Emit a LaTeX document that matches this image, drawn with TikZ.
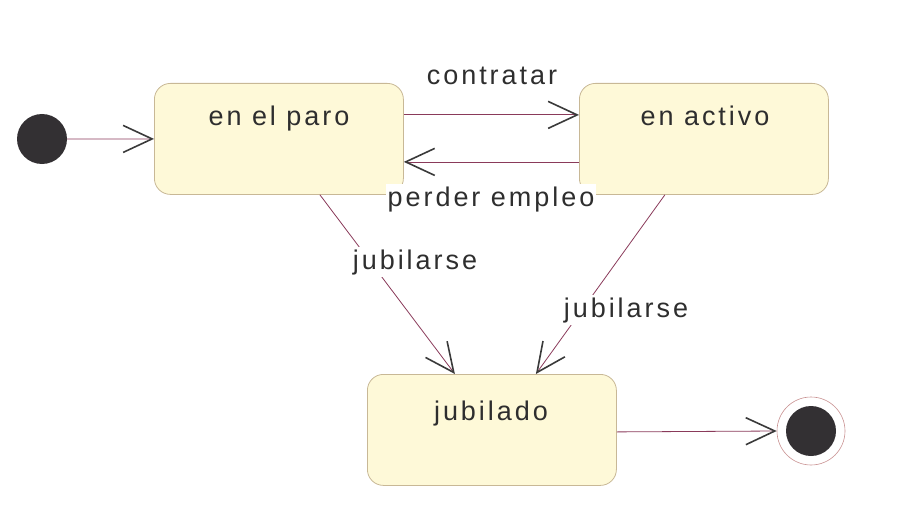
\documentclass[tikz,border=0pt]{standalone}
\usepackage{fontspec}
\setmainfont{Liberation Sans}[LetterSpace=11]
\usetikzlibrary{arrows.meta}
\definecolor{boxfill}{HTML}{FEF9D8}
\definecolor{boxdraw}{HTML}{C8B896}
\definecolor{linec}{HTML}{8A3A5A}
\definecolor{tipc}{HTML}{3A3A3A}
\definecolor{dotc}{HTML}{333033}
\definecolor{ringc}{HTML}{C89090}
\definecolor{txtc}{HTML}{2E2E2E}
\tikzset{
  statebox/.style={draw=boxdraw, fill=boxfill, line width=0.8pt, rounded corners=16pt,
    minimum width=249pt, minimum height=111pt, inner sep=0pt, anchor=north west},
  trans/.style={draw=linec, line width=0.8pt,
    -{Straight Barb[length=29pt,width=27pt,line width=1.6pt,color=tipc]}},
  txt/.style={font=\fontsize{27}{31}\selectfont, text=txtc, anchor=base, inner sep=1pt},
  lbl/.style={txt, fill=white, inner sep=2pt},
}
\begin{document}
\begin{tikzpicture}[x=1pt,y=-1pt]
\useasboundingbox (0,0) rectangle (904,532);
% states
\node[statebox] (paro) at (154,83) {};
\node[statebox] (activo) at (579,83) {};
\node[statebox] (jubilado) at (367,374) {};
\node[txt] (tparo) at (279,125) {en el paro};
\node[txt] (tactivo) at (705,125) {en activo};
\node[txt] (tjub) at (491,420) {jubilado};
% initial and final
\node[circle, fill=dotc, minimum size=50pt, inner sep=0pt] (init) at (42,139) {};
\node[circle, draw=ringc, line width=0.6pt, minimum size=68pt, inner sep=0pt] (fin) at (811,431) {};
\node[circle, fill=dotc, minimum size=50pt, inner sep=0pt] (fincore) at (811,431) {};
% transitions
\draw[trans] (init) -- (paro.west);
\draw[trans] ([yshift=24pt]paro.east) -- ([yshift=24pt]activo.west);
\draw[trans] ([yshift=-23pt]activo.west) -- ([yshift=-23pt]paro.east);
\draw[trans] ([xshift=41pt]paro.south) -- ([xshift=-37pt]jubilado.north);
\draw[trans] ([xshift=-39pt]activo.south) -- ([xshift=44pt]jubilado.north);
\draw[trans] ([yshift=-2pt]jubilado.east) -- (fin.west);
% labels
\node[txt] (lcon) at (492,85) {contratar};
\node[lbl] (lper) at (491,206) {perder empleo};
\node[lbl] (ljub1) at (415,269) {jubilarse};
\node[lbl] (ljub2) at (626,317) {jubilarse};
\end{tikzpicture}
\end{document}
